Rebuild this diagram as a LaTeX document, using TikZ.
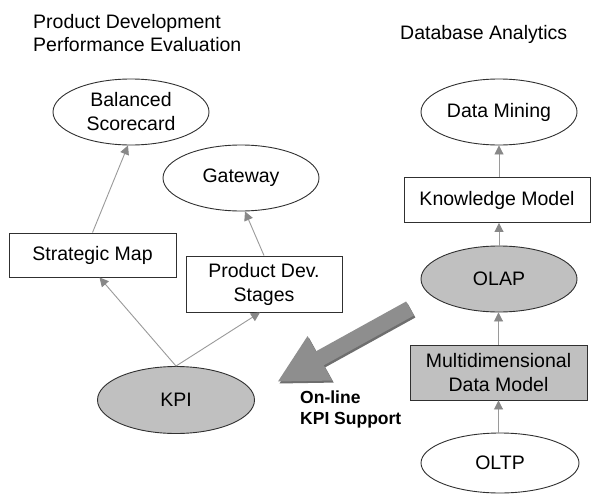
\documentclass[tikz,border=0pt]{standalone}
\usepackage{fontspec}
\setmainfont{Liberation Sans}
\usetikzlibrary{arrows.meta,shapes.geometric}
\definecolor{nodegray}{HTML}{C0C0C0}
\definecolor{linegray}{HTML}{9A9A9A}
\definecolor{tipgray}{HTML}{888888}
\definecolor{biggray}{HTML}{8E8E8E}
\definecolor{bigshade}{HTML}{6E6E6E}
\definecolor{edge}{HTML}{303030}
\tikzset{
  txt/.style={font=\fontsize{19.5}{24}\selectfont, inner sep=0pt},
  ell/.style={txt, shape=ellipse, draw=edge, line width=0.9pt, minimum width=156pt, minimum height=66pt, align=center},
  boxnode/.style={txt, shape=rectangle, draw=edge, line width=0.9pt, align=center},
  grayfill/.style={fill=nodegray},
  conn/.style={draw=linegray, line width=0.9pt, -{Triangle[length=9pt,width=9pt,color=tipgray,fill=tipgray]}},
  bigarrow/.style={line width=16pt, -{Triangle[length=49pt,width=47pt]}},
  boldlbl/.style={font=\fontsize{17.5}{21}\selectfont\bfseries, inner sep=0pt, anchor=base west}
}
\begin{document}
\begin{tikzpicture}[x=1pt,y=-1pt]
\fill[white] (0,0) rectangle (591,495);
\useasboundingbox (0,0) rectangle (591,495);
% titles
\node[txt, anchor=base west] (t1) at (33,29) {Product Development};
\node[txt, anchor=base west] (t2) at (33,52) {Performance Evaluation};
\node[txt, anchor=base west] (t3) at (400,40) {Database Analytics};
% left side
\node[ell] (bsc) at (131,112) {Balanced\\Scorecard};
\node[ell] (gw) at (241,178) {Gateway};
\node[boxnode, minimum width=167pt, minimum height=44pt] (sm) at (92.5,255) {Strategic Map};
\node[boxnode, minimum width=156pt, minimum height=56pt] (pds) at (264,284) {Product Dev.\\Stages};
\node[ell, grayfill, minimum width=157pt, minimum height=67pt] (kpi) at (176,400) {KPI};
% right side
\node[ell] (dm) at (499,112) {Data Mining};
\node[boxnode, minimum width=186pt, minimum height=45pt] (km) at (497,200) {Knowledge Model};
\node[ell, grayfill, minimum height=66pt] (olap) at (499,279) {OLAP};
\node[boxnode, grayfill, minimum width=177pt, minimum height=55pt] (md) at (498.5,372.5) {Multidimensional\\Data Model};
\node[ell, minimum width=158pt, minimum height=60pt] (oltp) at (500,463) {OLTP};
% connectors
\draw[conn] (sm.north) -- ([xshift=-3pt]bsc.south);
\draw[conn] (pds.north) -- ([xshift=4pt]gw.south);
\draw[conn] (kpi.north) -- ([xshift=7pt]sm.south);
\draw[conn] (kpi.north) -- ([xshift=-4pt]pds.south);
\draw[conn] (oltp.north -| md.south) -- (md.south);
\draw[conn] (md.north) -- (md.north |- olap.south);
\draw[conn] (olap.north) -- (olap.north |- km.south);
\draw[conn] (km.north -| dm.south) -- (dm.south);
% big arrow
\coordinate (tail) at (410,308.5);
\coordinate (tip) at (277,382);
\draw[bigarrow, color=bigshade] ([shift={(1.5,2)}]tail) -- ([shift={(1.5,2)}]tip);
\draw[bigarrow, color=biggray] (tail) -- (tip);
\node[boldlbl] (l1) at (300,403) {On-line};
\node[boldlbl] (l2) at (300,424) {KPI Support};
\end{tikzpicture}
\end{document}
